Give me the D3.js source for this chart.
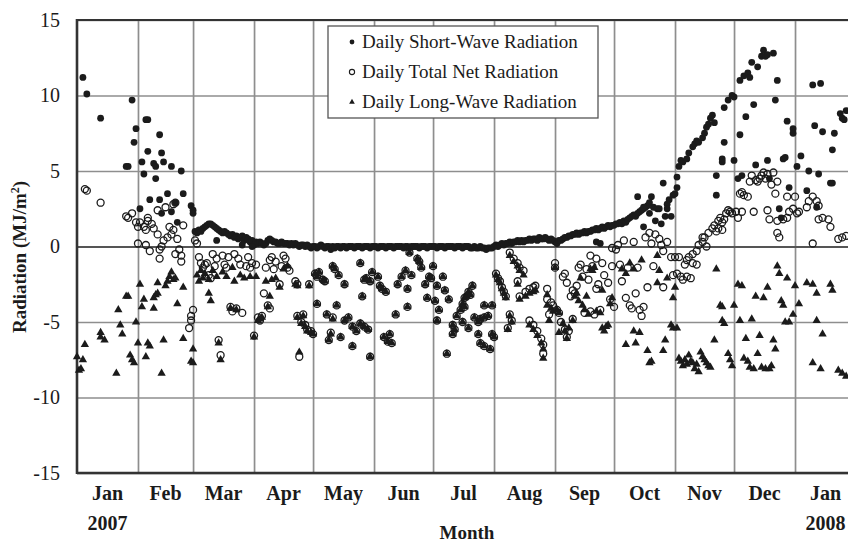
<!DOCTYPE html>
<html>
<head>
<meta charset="utf-8">
<script src="https://cdn.jsdelivr.net/npm/d3@7"></script>
<style>
  body { margin: 0; background: #fff; }
  svg { display: block; }
  svg text { font-family: "Liberation Serif", "Times New Roman", serif; }
</style>
</head>
<body>
<svg id="chart" width="848" height="543"></svg>
<script>
// axis labels
const monthLabels = ['Jan', 'Feb', 'Mar', 'Apr', 'May', 'Jun', 'Jul', 'Aug', 'Sep', 'Oct', 'Nov', 'Dec', 'Jan'];
const yearLabels = [[0, '2007'], [12, '2008']];
const yTicks = [-15, -10, -5, 0, 5, 10, 15];
const legendNames = ['Daily Short-Wave Radiation', 'Daily Total Net Radiation', 'Daily Long-Wave Radiation'];

// days are counted from 1 Jan 2007

// short-wave: one reading per day from day 60 on, plus the scattered days
const swBandStart = 60;
const swBand = [
  1.0, 0.9, 1.1, 1.0, 1.2, 1.3, 1.4, 1.5, 1.5, 1.4, 1.3, 1.2, 1.1, 1.0, 0.9, 1.0, 0.9, 0.8, 0.7, 0.8, 0.6, 0.7, 0.5, 0.6, 0.7, 0.4, 0.6, 0.5, 0.3, 0.4,
  0.1, 0.3, 0.2, 0.3, 0.2, 0.1, 0.2, 0.4, 0.5, 0.4, 0.3, 0.3, 0.2, 0.2, 0.3, 0.2, 0.2, 0.2, 0.1, 0.2, 0.1, 0.2, 0.1, 0.0, 0.1, 0.1, 0.0, 0.1, 0.0, -0.1,
  0.0, 0.0, -0.1, 0.0, 0.1, 0.0, -0.1, 0.0, 0.0, -0.2, 0.0, -0.1, 0.0, 0.0, -0.1, 0.0, 0.0, -0.1, 0.0, 0.0, 0.0, -0.1, 0.0, 0.0, 0.0, -0.1, 0.0, 0.0, 0.0, -0.1, 0.0,
  0.0, 0.0, -0.1, 0.0, 0.0, 0.0, -0.1, 0.0, 0.0, 0.0, -0.1, 0.0, 0.0, 0.0, 0.0, -0.1, 0.0, 0.0, -0.1, 0.0, 0.0, 0.0, 0.0, -0.1, 0.0, 0.0, 0.0, -0.1, 0.0, 0.0,
  0.0, 0.0, -0.1, 0.0, 0.0, 0.0, -0.1, 0.0, 0.0, 0.0, 0.0, -0.1, 0.0, 0.0, 0.0, -0.1, 0.0, 0.0, 0.0, -0.1, -0.1, 0.0, -0.1, -0.1, 0.0, -0.1, -0.1, -0.2, -0.1, -0.1, -0.1,
  0.0, 0.1, 0.0, 0.1, 0.2, 0.1, 0.2, 0.2, 0.3, 0.2, 0.3, 0.3, 0.4, 0.3, 0.4, 0.3, 0.4, 0.4, 0.5, 0.4, 0.5, 0.5, 0.4, 0.6, 0.5, 0.5, 0.6, 0.5, 0.4, 0.5, 0.4,
  0.3, 0.2, 0.4, 0.4, 0.5, 0.6, 0.6, 0.7, 0.7, 0.8, 0.8, 0.9, 0.8, 0.9, 0.9, 1.0, 0.9, 1.0, 1.0, 1.1, 1.1, 1.2, 1.1, 1.2, 1.3, 1.2, 1.3, 1.4, 1.3, 1.4,
  1.4, 1.5, 1.5, 1.6, 1.5, 1.7, 1.6, 1.8, 1.9, 2.0, 2.1, 2.0, 2.2, 2.3, 2.4, 2.5, 2.6, 2.7, 2.9
];
const swScatter = [
  [3, 11.2], [5, 10.1], [12, 8.5], [25, 5.3], [26, 5.3], [28, 9.7], [29, 6.9], [30, 7.8], [32, 2.5], [33, 5.6],
  [34, 4.8], [35, 8.4], [36, 8.4], [36, 6.3], [37, 3.1], [39, 5.5], [40, 4.5], [40, 5.3], [42, 3.1], [42, 7.4],
  [43, 6.2], [44, 5.6], [43, 2.2], [46, 3.5], [48, 5.3], [48, 2.3], [50, 2.9], [51, 1.6], [53, 5.0], [54, 3.5],
  [58, 2.7], [59, 2.4], [59, 2.2], [71, 0.4], [84, 0.1], [89, 0.0], [264, 0.3], [266, 0.2],
  [285, 3.3], [288, 2.6], [288, 1.3], [291, 2.2], [292, 3.3], [293, 2.6], [294, 1.7], [295, 2.5], [296, 2.5],
  [297, 1.5], [298, 4.2], [299, 2.0], [300, 2.8], [300, 2.5], [301, 3.1], [302, 2.0], [303, 3.4], [304, 3.5],
  [305, 3.9], [305, 4.6], [306, 5.3], [307, 5.7], [308, 5.6], [310, 5.8], [311, 6.2], [313, 6.6], [314, 6.8],
  [315, 7.0], [316, 6.9], [318, 7.2], [319, 7.5], [320, 7.9], [321, 8.1], [322, 8.5], [323, 8.7], [324, 8.2],
  [325, 4.7], [325, 3.4], [328, 5.6], [328, 5.8], [329, 6.9], [329, 9.2], [331, 9.7], [333, 10.0], [334, 9.9],
  [334, 5.7], [336, 4.5], [337, 7.4], [337, 11.0], [338, 4.7], [339, 11.3], [340, 8.6], [341, 11.5], [342, 11.2],
  [343, 12.2], [344, 9.4], [345, 5.4], [346, 11.9], [348, 12.6], [349, 13.0], [350, 12.6], [351, 12.7], [351, 5.7],
  [352, 4.5], [354, 12.8], [355, 9.7], [356, 11.0], [357, 2.5], [358, 1.9], [359, 5.8], [360, 5.9], [361, 8.3],
  [362, 3.9], [364, 7.8], [364, 7.5], [366, 5.3], [368, 6.0], [371, 3.7], [372, 5.0], [374, 10.7], [375, 8.0],
  [376, 2.6], [377, 4.8], [378, 10.8], [379, 7.6], [383, 4.2], [384, 4.2], [384, 6.4], [385, 7.5], [388, 8.8],
  [389, 8.5], [390, 8.4], [391, 9.0]
];

// total net radiation
const netRadiation = [
  [4, 3.8], [5, 3.7], [12, 2.9], [25, 2.0], [26, 1.9], [28, 2.2], [30, 1.6], [31, 1.3], [31, 0.2], [32, 1.6],
  [34, 1.3], [35, 1.1], [35, 0.1], [36, 1.9], [36, 1.7], [37, -0.3], [38, 1.5], [39, 1.2], [41, 2.4], [41, 0.8],
  [42, -0.2], [42, -0.8], [43, 0.0], [44, 0.4], [45, 2.6], [46, 0.6], [47, 1.3], [48, 0.8], [49, 2.8], [49, 1.1],
  [50, 2.9], [50, -0.5], [51, 0.5], [52, -0.2], [53, -0.6], [53, -1.0], [54, 1.4], [57, -5.4], [58, -4.9], [58, -4.6],
  [59, -4.2], [60, 0.4], [61, 0.2], [62, -0.7], [63, -1.1], [64, -1.4], [65, -1.2], [66, -1.1], [67, -1.9], [68, -2.1],
  [69, -0.5], [70, -1.3], [71, -0.8], [72, -6.2], [73, -7.2], [74, -0.6], [75, -1.2], [76, -1.4], [77, -0.7], [78, -4.0],
  [79, -4.3], [80, -0.5], [81, -4.1], [82, -0.8], [83, -1.2], [84, -4.4], [86, -1.3], [87, -0.7], [88, -1.4], [89, -1.1],
  [90, -5.9], [91, -1.2], [92, -4.7], [93, -4.9], [94, -4.6], [95, -3.1], [96, -1.4], [97, -3.9], [98, -4.1], [98, -0.9],
  [99, -0.7], [100, -1.5], [101, -1.0], [103, -2.5], [104, -1.3], [105, -0.6], [106, -0.8], [107, -1.4], [108, -1.6], [111, -2.3],
  [112, -2.5], [112, -4.6], [113, -7.3], [114, -5.0], [115, -4.5], [116, -5.2], [117, -5.5], [118, -2.5], [119, -5.6],
  [120, -5.8], [121, -1.8], [122, -3.8], [122, -2.0], [123, -1.7], [125, -2.2], [126, -2.3], [127, -4.5], [128, -6.2], [129, -5.7],
  [130, -1.3], [130, -4.7], [131, -1.5], [132, -3.9], [133, -1.9], [134, -6.0], [136, -2.5], [136, -4.9], [138, -4.7], [140, -5.3],
  [140, -6.6], [142, -5.6], [144, -1.1], [144, -5.1], [145, -3.3], [146, -2.2], [146, -5.3], [147, -2.1], [148, -5.5], [149, -2.3],
  [149, -7.3], [150, -1.7], [153, -2.0], [154, -2.6], [155, -2.8], [156, -6.0], [157, -3.0], [158, -6.3], [159, -5.8], [160, -6.4],
  [162, -4.5], [163, -2.5], [165, -2.0], [167, -1.6], [168, -4.0], [168, -2.8], [169, -0.4], [170, -1.9], [173, -0.8], [174, -1.0],
  [175, -1.4], [177, -2.5], [178, -3.4], [179, -2.0], [180, -2.1], [181, -1.3], [182, -3.6], [183, -2.6], [183, -4.9], [184, -4.2],
  [186, -2.0], [187, -2.9], [188, -7.1], [189, -3.5], [191, -5.2], [191, -5.8], [192, -5.5], [193, -4.6], [195, -4.2], [196, -5.0],
  [196, -3.8], [197, -4.0], [197, -3.4], [198, -3.3], [199, -5.4], [199, -3.0], [200, -3.2], [201, -2.6], [202, -4.7], [204, -5.0],
  [204, -5.8], [205, -4.8], [205, -6.4], [207, -4.7], [207, -3.9], [207, -6.6], [209, -4.6], [210, -6.8], [211, -3.9], [211, -5.8],
  [212, -6.0], [213, -1.8], [214, -2.1], [215, -2.3], [216, -2.7], [217, -3.0], [218, -3.3], [219, -5.4], [220, -4.5], [220, -0.4],
  [221, -4.9], [222, -0.8], [224, -1.1], [224, -2.3], [225, -1.4], [225, -3.3], [227, -1.6], [228, -3.0], [230, -2.8], [230, -4.9],
  [232, -2.7], [232, -5.2], [233, -2.6], [234, -5.6], [236, -6.1], [237, -6.5], [237, -7.1], [239, -2.8], [239, -3.5], [240, -4.5],
  [241, -3.7], [242, -3.9], [243, -1.1], [243, -1.4], [244, -4.2], [245, -4.4], [246, -5.0], [247, -2.0], [248, -5.5], [248, -1.8],
  [249, -6.0], [249, -2.4], [250, -5.6], [251, -3.3], [252, -4.8], [252, -2.9], [253, -3.1], [254, -2.6], [255, -1.4], [256, -1.2],
  [257, -2.0], [258, -4.4], [259, -1.5], [260, -2.2], [261, -4.3], [261, -0.6], [262, -1.3], [263, -4.5], [264, -2.8], [264, -0.8],
  [265, -2.5], [266, -4.2], [267, -1.1], [268, -1.9], [270, -2.4], [271, -3.5], [272, -1.3], [272, -0.1], [273, -4.0], [274, -0.2],
  [275, 0.1], [276, -1.2], [277, -2.3], [278, 0.4], [279, -3.4], [280, -1.4], [281, -3.9], [282, -4.1], [283, 0.3], [284, -3.1],
  [285, -1.4], [286, -4.2], [287, -4.6], [288, -4.0], [289, 0.6], [290, -2.7], [291, 0.9], [292, 0.2], [293, -1.3], [294, 0.8],
  [296, 0.5], [297, 0.1], [298, -0.3], [298, -2.7], [300, 0.3], [302, -0.7], [303, -1.9], [304, -0.7], [305, -1.8], [306, -0.7],
  [307, -2.0], [308, -2.2], [309, -1.2], [310, -0.9], [310, -2.0], [311, -0.7], [312, -2.1], [313, -0.5], [313, -1.1], [315, -0.3],
  [315, -1.2], [316, 0.1], [318, 0.3], [318, 0.6], [319, 0.6], [320, 0.0], [321, 0.9], [323, 1.2], [324, 1.4], [325, 1.0],
  [326, 1.7], [326, 1.2], [327, 1.9], [328, 1.6], [328, 1.1], [329, 1.8], [330, 2.2], [331, 2.4], [332, 2.3], [333, 2.2],
  [335, 2.3], [336, 1.9], [337, 3.5], [338, 3.6], [338, 2.3], [339, 3.4], [341, 3.3], [342, 4.3], [343, 4.7], [344, 2.3],
  [345, 4.4], [346, 4.3], [347, 4.5], [348, 4.7], [349, 4.9], [350, 4.5], [351, 4.8], [351, 2.4], [352, 1.8], [353, 4.1],
  [354, 4.9], [355, 3.5], [356, 4.3], [356, 1.7], [356, 0.9], [357, 0.6], [359, 1.8], [361, 1.9], [361, 3.3], [362, 2.3],
  [364, 2.5], [365, 3.3], [366, 2.2], [367, 2.3], [371, 2.6], [372, 3.0], [374, 3.3], [374, 0.2], [376, 3.0], [377, 1.8],
  [377, 2.7], [379, 1.9], [382, 1.8], [383, 1.3], [387, 0.5], [389, 0.6], [391, 0.7]
];

// long-wave radiation
const longWave = [
  [0, -7.3], [1, -8.2], [2, -8.1], [3, -7.5], [4, -6.5], [12, -5.7], [12, -6.0], [14, -6.2], [20, -8.4], [21, -4.2],
  [22, -5.2], [23, -5.8], [25, -3.3], [26, -3.3], [27, -7.2], [28, -7.5], [29, -7.7], [30, -5.0], [31, -6.4], [32, -2.5],
  [33, -4.0], [34, -3.5], [35, -7.3], [36, -6.4], [37, -6.6], [39, -4.1], [39, -3.4], [40, -3.2], [41, -3.1], [41, -2.4],
  [43, -8.4], [44, -6.2], [45, -2.6], [46, -2.3], [47, -2.0], [48, -1.7], [49, -2.2], [50, -2.1], [51, -3.8], [54, -6.1],
  [54, -2.7], [58, -7.6], [59, -7.7], [59, -6.8], [61, -1.9], [62, -2.3], [63, -1.6], [64, -2.1], [65, -1.8], [67, -2.2],
  [67, -3.1], [68, -3.6], [69, -1.6], [71, -2.0], [72, -6.4], [73, -7.5], [74, -1.7], [76, -2.0], [78, -4.1], [79, -1.4],
  [80, -2.3], [81, -4.2], [83, -1.9], [85, -2.1], [88, -2.0], [90, -6.0], [91, -2.0], [92, -4.9], [93, -4.8], [94, -4.7],
  [96, -2.3], [97, -4.0], [98, -3.3], [99, -2.2], [101, -2.1], [103, -2.7], [105, -1.5], [107, -1.3], [111, -2.5], [112, -2.6],
  [112, -4.7], [113, -7.0], [114, -5.1], [115, -4.6], [116, -5.3], [117, -5.6], [118, -2.6], [119, -5.7],
  [120, -5.8], [121, -1.8], [122, -3.8], [122, -2.0], [123, -1.7], [125, -2.2], [126, -2.3], [127, -4.5], [128, -6.2], [129, -5.8],
  [130, -1.3], [130, -4.8], [131, -1.5], [132, -3.9], [133, -1.9], [134, -6.0], [136, -2.5], [136, -4.9], [138, -4.7], [140, -5.3],
  [140, -6.6], [142, -5.6], [144, -1.1], [144, -5.1], [145, -3.3], [146, -2.2], [146, -5.3], [147, -2.1], [148, -5.5], [149, -2.3],
  [149, -7.3], [150, -1.7], [153, -2.0], [154, -2.6], [155, -2.8], [156, -6.0], [157, -3.0], [158, -6.3], [159, -5.8], [160, -6.4],
  [162, -4.5], [163, -2.5], [165, -2.0], [167, -1.6], [168, -4.0], [168, -2.8], [169, -0.4], [170, -1.9], [173, -0.8], [174, -1.0],
  [175, -1.4], [177, -2.5], [178, -3.4], [179, -2.0], [180, -2.1], [181, -1.3], [182, -3.6], [183, -2.6], [183, -4.9], [184, -4.2],
  [186, -2.0], [187, -2.9], [188, -7.1], [189, -3.5], [191, -5.2], [191, -5.8], [192, -5.5], [193, -4.6], [195, -4.2], [196, -5.0],
  [196, -3.8], [197, -4.0], [197, -3.4], [198, -3.3], [199, -5.4], [199, -3.0], [200, -3.2], [201, -2.6], [202, -4.7], [204, -5.0],
  [204, -5.8], [205, -4.8], [205, -6.4], [207, -4.7], [207, -3.9], [207, -6.6], [209, -4.6], [210, -6.8], [211, -3.9], [211, -5.8],
  [212, -6.0], [213, -1.9], [214, -2.2], [215, -2.4], [216, -2.8], [217, -3.1], [218, -3.4], [219, -5.5], [220, -4.6], [220, -0.6],
  [221, -5.0], [222, -1.0], [224, -1.3], [224, -2.5], [225, -1.6], [225, -3.5], [227, -1.9], [228, -3.3], [230, -3.1], [230, -5.2],
  [232, -3.0], [232, -5.5], [233, -2.9], [234, -5.9], [236, -6.4], [237, -6.8], [237, -7.4], [239, -3.2], [239, -3.9], [240, -4.9],
  [241, -4.1], [242, -4.3], [243, -1.4], [244, -4.2], [245, -4.4], [245, -5.7], [247, -5.1], [248, -5.6], [249, -6.1], [250, -5.4],
  [252, -4.9], [253, -3.3], [254, -3.1], [255, -3.6], [256, -2.1], [257, -3.9], [258, -4.2], [259, -3.3], [260, -4.5], [261, -1.5],
  [262, -1.6], [263, -1.4], [264, -4.3], [266, -4.4], [267, -2.9], [267, -5.4], [268, -5.6], [269, -5.3], [270, -5.2], [271, -3.8],
  [272, -3.4], [277, -1.5], [279, -1.8], [279, -6.5], [281, -1.1], [283, -1.5], [283, -5.6], [284, -6.4], [286, -5.7], [287, -0.9],
  [290, -6.9], [291, -7.7], [292, -7.6], [295, -0.6], [295, -2.4], [296, -1.6], [298, -6.9], [299, -6.2], [300, -2.1], [302, -5.2],
  [303, -5.4], [303, -3.4], [304, -2.7], [305, -5.4], [306, -7.4], [307, -7.6], [308, -7.9], [309, -7.5], [310, -7.8], [311, -7.2],
  [312, -7.6], [313, -7.7], [314, -8.1], [315, -7.8], [316, -8.3], [317, -7.0], [318, -7.3], [319, -7.5], [320, -7.7], [321, -7.9],
  [322, -8.0], [324, -6.2], [325, -1.5], [327, -3.9], [328, -4.0], [328, -4.9], [329, -5.1], [331, -7.1], [332, -7.5], [333, -7.9],
  [334, -3.9], [336, -2.5], [337, -4.9], [338, -2.6], [339, -7.4], [340, -6.1], [341, -7.6], [342, -8.0], [343, -4.8], [344, -8.1],
  [345, -3.3], [346, -7.1], [347, -5.9], [348, -8.0], [349, -3.4], [350, -8.1], [351, -2.7], [352, -8.1], [353, -7.9], [354, -6.2],
  [355, -6.8], [356, -1.3], [357, -1.8], [358, -3.6], [359, -3.9], [360, -5.0], [361, -2.1], [362, -5.0], [364, -4.5], [365, -2.6],
  [367, -3.8], [371, -2.4], [374, -2.5], [374, -7.7], [376, -3.1], [376, -4.9], [378, -8.1], [379, -5.8], [383, -2.5], [384, -2.9],
  [387, -8.2], [389, -8.4], [391, -8.6]
];

const shortWave = swBand.map((v, i) => [swBandStart + i, v]).concat(swScatter);

// layout
const plot = { left: 77, top: 20, right: 856, bottom: 473 };
const ink = '#1b1b1b';
const gridColor = '#8e8e8e';
const serif = '"Liberation Serif", "Times New Roman", serif';

const startDate = new Date(Date.UTC(2007, 0, 1));
const endDate = new Date(Date.UTC(2008, 1, 1));
const toDate = (d) => d3.utcDay.offset(startDate, d);

const svg = d3.select('#chart').attr('font-family', serif);

const x = d3.scaleUtc()
  .domain([startDate, endDate])
  .range([plot.left, plot.right]);

const y = d3.scaleLinear()
  .domain([-15, 15])
  .range([plot.bottom, plot.top]);

// vertical grid at month starts
const monthStarts = d3.utcMonth.range(startDate, endDate);
svg.append('g')
  .attr('transform', `translate(0, ${plot.bottom})`)
  .call(d3.axisBottom(x)
    .tickValues(monthStarts.slice(1))
    .tickSize(-(plot.bottom - plot.top))
    .tickFormat(''))
  .call((g) => g.select('.domain').remove())
  .call((g) => g.selectAll('.tick line')
    .attr('stroke', gridColor)
    .attr('stroke-width', 1.7));

// horizontal grid + y labels
svg.append('g')
  .attr('transform', `translate(${plot.left}, 0)`)
  .call(d3.axisLeft(y)
    .tickValues(yTicks)
    .tickSizeInner(-(plot.right - plot.left))
    .tickSizeOuter(0)
    .tickPadding(17)
    .tickFormat((d) => String(d)))
  .attr('font-family', serif)
  .attr('font-size', 20)
  .call((g) => g.select('.domain').remove())
  .call((g) => g.selectAll('.tick line')
    .attr('stroke', (d) => d === 0 ? '#555' : gridColor)
    .attr('stroke-width', (d) => d === 0 ? 1.8 : 1.7))
  .call((g) => g.selectAll('.tick text')
    .attr('fill', ink));

// frame
const frame = svg.append('g').attr('stroke', '#333').attr('fill', 'none');
frame.append('line').attr('x1', plot.left).attr('x2', plot.right).attr('y1', plot.top).attr('y2', plot.top).attr('stroke-width', 2);
frame.append('line').attr('x1', plot.left).attr('x2', plot.right).attr('y1', plot.bottom).attr('y2', plot.bottom).attr('stroke-width', 2.6);
frame.append('line').attr('x1', plot.left).attr('x2', plot.left).attr('y1', plot.top - 1).attr('y2', plot.bottom + 1).attr('stroke-width', 2.6);

// month labels centred in each month
const monthLabelG = svg.append('g')
  .attr('fill', ink)
  .attr('font-size', 20)
  .attr('font-weight', 'bold')
  .attr('text-anchor', 'middle');

const monthMid = (i) => (x(d3.utcMonth.offset(startDate, i)) + x(d3.utcMonth.offset(startDate, i + 1))) / 2;

monthLabelG.selectAll('text.month')
  .data(monthLabels)
  .join('text')
  .attr('class', 'month')
  .attr('x', (d, i) => monthMid(i))
  .attr('y', 500)
  .text((d) => d);

monthLabelG.selectAll('text.year')
  .data(yearLabels)
  .join('text')
  .attr('class', 'year')
  .attr('x', (d) => monthMid(d[0]))
  .attr('y', 530)
  .text((d) => d[1]);

svg.append('text')
  .attr('x', 467)
  .attr('y', 539)
  .attr('text-anchor', 'middle')
  .attr('fill', ink)
  .attr('font-size', 19)
  .attr('font-weight', 'bold')
  .text('Month');

// y title
const yTitle = svg.append('text')
  .attr('transform', 'translate(26, 257) rotate(-90)')
  .attr('text-anchor', 'middle')
  .attr('fill', ink)
  .attr('font-size', 19)
  .attr('font-weight', 'bold');
yTitle.append('tspan').text('Radiation (MJ/m');
yTitle.append('tspan').attr('dy', -7).attr('font-size', 12).text('2');
yTitle.append('tspan').attr('dy', 7).text(')');

// data
const dataG = svg.append('g');

dataG.append('g')
  .selectAll('circle')
  .data(shortWave)
  .join('circle')
  .attr('cx', (d) => x(toDate(d[0])))
  .attr('cy', (d) => y(d[1]))
  .attr('r', 3.4)
  .attr('fill', ink);

dataG.append('g')
  .selectAll('circle')
  .data(netRadiation)
  .join('circle')
  .attr('cx', (d) => x(toDate(d[0])))
  .attr('cy', (d) => y(d[1]))
  .attr('r', 3.5)
  .attr('fill', 'none')
  .attr('stroke', ink)
  .attr('stroke-width', 1.3);

const tri = d3.symbol(d3.symbolTriangle, 30);
dataG.append('g')
  .selectAll('path')
  .data(longWave)
  .join('path')
  .attr('transform', (d) => `translate(${x(toDate(d[0]))}, ${y(d[1])})`)
  .attr('d', tri)
  .attr('fill', ink);

// legend
const legend = svg.append('g').attr('transform', 'translate(328, 26)');
legend.append('rect')
  .attr('width', 270)
  .attr('height', 92)
  .attr('fill', '#fff')
  .attr('stroke', '#555')
  .attr('stroke-width', 1.3);

const rows = legend.selectAll('g.row')
  .data(legendNames)
  .join('g')
  .attr('class', 'row')
  .attr('transform', (d, i) => `translate(0, ${16 + i * 30})`);

rows.append('text')
  .attr('x', 34)
  .attr('y', 6)
  .attr('fill', ink)
  .attr('font-size', 19)
  .text((d) => d);

rows.filter((d, i) => i === 0).append('circle').attr('cx', 24).attr('cy', 0).attr('r', 2.4).attr('fill', ink);
rows.filter((d, i) => i === 1).append('circle').attr('cx', 24).attr('cy', 0).attr('r', 2.6).attr('fill', 'none').attr('stroke', ink).attr('stroke-width', 1.1);
rows.filter((d, i) => i === 2).append('path').attr('transform', 'translate(24, 0)').attr('d', d3.symbol(d3.symbolTriangle, 14)).attr('fill', ink);
</script>
</body>
</html>
